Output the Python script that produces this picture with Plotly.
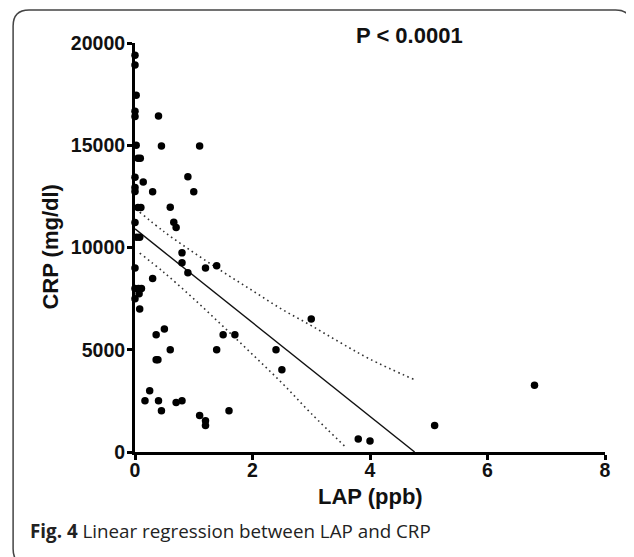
import plotly.graph_objects as go

# ---- data ----
lap = [0, 0, 0.02, 0, 0, 0.02, 0.05, 0.09, 0, 0, 0, 0.05, 0.1, 0, 0.03, 0.08, 0, 0, 0.06, 0.11, 0.07, 0, 0.08,
       0.40, 0.45, 1.10, 0.14, 0.30, 0.90, 1.00, 0.60, 0.66, 0.70,
       0.80, 0.80, 0.90, 1.20, 1.39, 0.30,
       0.36, 0.50, 0.60, 0.36, 0.39, 1.39, 1.50, 1.70, 2.40, 2.50, 3.00,
       0.25, 0.17, 0.40, 0.45, 0.70, 0.80, 1.10, 1.20, 1.20, 1.60,
       3.80, 4.00, 5.10, 6.80]
crp = [19400, 18930, 17450, 16660, 16400, 15000, 14360, 14360, 13430, 12940, 12740, 11960, 11960, 11220, 10500, 10500, 9000, 8000, 8000, 8000, 7740, 7500, 6990,
       16430, 14960, 14960, 13200, 12730, 13460, 12730, 11970, 11240, 10980,
       9740, 9250, 8760, 9000, 9110, 8480,
       5730, 6010, 5000, 4510, 4510, 5000, 5730, 5730, 5000, 4020, 6500,
       3000, 2510, 2510, 2020, 2420, 2510, 1780, 1530, 1290, 2020,
       640, 540, 1290, 3270]

fit_x = [0, 4.76]
fit_y = [10910, 0]

upper_x = [0.08, 0.5, 1.0, 1.5, 2.0, 2.5, 3.0, 3.5, 4.0, 4.76]
upper_y = [11730, 10760, 9750, 8800, 7890, 6980, 6180, 5340, 4540, 3530]
lower_x = [0.08, 0.5, 1.0, 1.5, 2.0, 2.5, 3.0, 3.6]
lower_y = [9730, 8760, 7490, 6140, 4770, 3380, 1880, 200]

x_ticks = [0, 2, 4, 6, 8]
x_tick_labels = ["0", "2", "4", "6", "8"]
y_ticks = [0, 5000, 10000, 15000, 20000]
y_tick_labels = ["0", "5000", "10000", "15000", "20000"]

# ---- layout geometry (pixels); page body has an 8px margin ----
OFF = 8
W, H = 634 - OFF, 557 - OFF
L, T = 135 - OFF, 43 - OFF
PW, PH = 470.4, 409
R = W - L - PW
B = H - T - PH


def px(xi):
    """image x pixel -> paper x"""
    return (xi - OFF - L) / PW


def py(yi):
    """image y pixel -> paper y"""
    return (T + PH - (yi - OFF)) / PH


fig = go.Figure()

band_line = dict(color="#333333", width=1.6, dash="1.6px,3.4px")
fig.add_trace(go.Scatter(x=upper_x, y=upper_y, mode="lines", line_shape="spline",
                         line=band_line, hoverinfo="skip", showlegend=False))
fig.add_trace(go.Scatter(x=lower_x, y=lower_y, mode="lines", line_shape="spline",
                         line=band_line, hoverinfo="skip", showlegend=False))
fig.add_trace(go.Scatter(x=fit_x, y=fit_y, mode="lines",
                         line=dict(color="#111111", width=1.4),
                         hoverinfo="skip", showlegend=False))
fig.add_trace(go.Scatter(x=lap, y=crp, mode="markers", cliponaxis=False,
                         marker=dict(color="black", size=7.5),
                         showlegend=False))

axis_font = dict(family="Arial, Liberation Sans", size=19.5, color="#111111", weight="bold")

fig.update_xaxes(range=[0, 8], tickvals=x_ticks, ticktext=x_tick_labels,
                 showline=True, linewidth=3, linecolor="black", mirror=False,
                 ticks="outside", ticklen=5, tickwidth=2.5, tickcolor="black",
                 ticklabelstandoff=-6,
                 showgrid=False, zeroline=False, tickfont=axis_font)
fig.update_yaxes(range=[0, 20000], tickvals=y_ticks, ticktext=y_tick_labels,
                 showline=True, linewidth=3, linecolor="black", mirror=False,
                 ticks="outside", ticklen=5, tickwidth=2.5, tickcolor="black",
                 ticklabelstandoff=-2,
                 showgrid=False, zeroline=False, tickfont=axis_font)

title_font = dict(family="Arial, Liberation Sans", size=22, color="#111111", weight="bold")

annotations = [
    dict(text="P < 0.0001", x=px(410), y=py(36), xref="paper", yref="paper",
         showarrow=False, xanchor="center", yanchor="middle", font=title_font),
    dict(text="CRP (mg/dl)", x=px(50), y=0.5, xref="paper", yref="paper", textangle=-90,
         showarrow=False, xanchor="center", yanchor="middle", font=title_font),
    dict(text="LAP (ppb)", x=0.5, y=py(497), xref="paper", yref="paper",
         showarrow=False, xanchor="center", yanchor="middle", font=title_font),
    dict(text="<b>Fig. 4</b> Linear regression between LAP and CRP", x=px(28), y=py(531),
         xref="paper", yref="paper", showarrow=False, xanchor="left", yanchor="middle",
         font=dict(family="Open Sans", size=18.8, color="#222222")),
]

# rounded frame
x0, y0, x1, y1, r = px(13), py(10), px(632), py(565), 16
rx, ry = r / PW, r / PH
path = (f"M {x0},{y0 - ry} Q {x0},{y0} {x0 + rx},{y0} L {x1 - rx},{y0} Q {x1},{y0} {x1},{y0 - ry} "
        f"L {x1},{y1 + ry} Q {x1},{y1} {x1 - rx},{y1} L {x0 + rx},{y1} Q {x0},{y1} {x0},{y1 + ry} Z")
shapes = [dict(type="path", path=path, xref="paper", yref="paper",
               line=dict(color="#444444", width=1.5), layer="below")]

fig.update_layout(width=W, height=H, margin=dict(l=L, r=R, t=T, b=B, autoexpand=False),
                  paper_bgcolor="white", plot_bgcolor="white",
                  annotations=annotations, shapes=shapes, showlegend=False)

fig.write_html("out.html")
